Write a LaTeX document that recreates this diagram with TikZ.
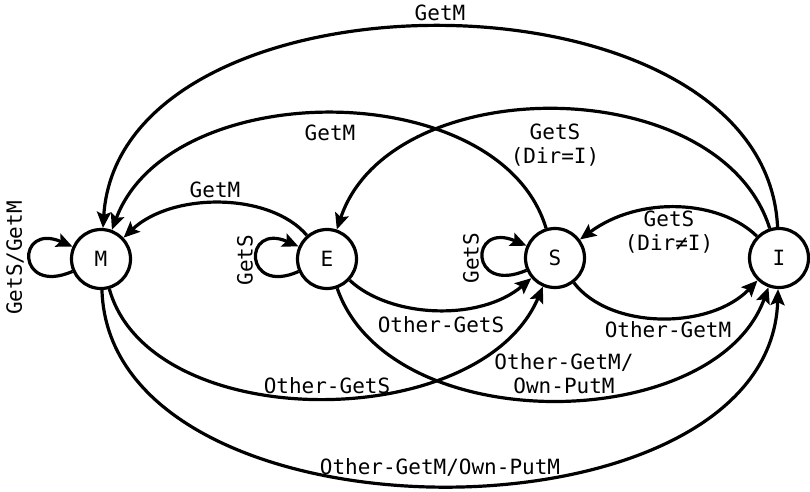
\documentclass[tikz,border=0pt]{standalone}
\usepackage{fontspec}
\setmainfont{DejaVu Sans Mono}
\usetikzlibrary{arrows.meta}
\begin{document}
\begin{tikzpicture}[x=1pt,y=-1pt,
  state/.style={circle,draw,line width=3.2pt,minimum size=59pt,inner sep=0pt,font=\fontsize{21}{24}\selectfont},
  edge/.style={line width=3.2pt,-{Stealth[length=16pt,width=14pt,inset=3pt]}},
  lbl/.style={font=\fontsize{21}{24}\selectfont,align=center,inner sep=0pt}]
\useasboundingbox (0,0) rectangle (810,491);
\node[state] (M) at (101,259) {M};
\node[state] (E) at (327,259) {E};
\node[state] (S) at (555,258) {S};
\node[state] (I) at (779,258) {I};
% edges
\draw[edge] (I) .. controls (765,-40) and (120,-40) .. (M);
\draw[edge] (S) .. controls (500,75) and (170,75) .. (M);
\draw[edge] (E) .. controls (270,192) and (172,192) .. (M);
\draw[edge] (I) .. controls (720,70) and (390,70) .. (E);
\draw[edge] (I) .. controls (720,200) and (640,195) .. (S);
\draw[edge] (S) .. controls (610,330) and (710,330) .. (I);
\draw[edge] (E) .. controls (390,318) and (480,322) .. (S);
\draw[edge] (M) .. controls (150,435) and (480,435) .. (S);
\draw[edge] (E) .. controls (390,440) and (715,435) .. (I);
\draw[edge] (M) .. controls (110,551) and (770,551) .. (I);
% self loops
\draw[edge] (M) .. controls (16,296) and (16,222) .. (M);
\draw[edge] (E) .. controls (243,296) and (243,222) .. (E);
\draw[edge] (S) .. controls (469,295) and (469,221) .. (S);
% labels
\node[lbl] (l1) at (440,13) {GetM};
\node[lbl] (l2) at (330,133) {GetM};
\node[lbl] (l3) at (215,190) {GetM};
\node[lbl] (l4) at (555,145) {GetS\\(Dir=I)};
\node[lbl] (l5) at (669,232) {GetS\\(Dir≠I)};
\node[lbl] (l6) at (668,330) {Other-GetM};
\node[lbl] (l7) at (441,325) {Other-GetS};
\node[lbl] (l8) at (327,386) {Other-GetS};
\node[lbl] (l9) at (564,374) {Other-GetM/\\Own-PutM};
\node[lbl] (l10) at (440,467) {Other-GetM/Own-PutM};
\node[lbl,rotate=90] (l11) at (15,258) {GetS/GetM};
\node[lbl,rotate=90] (l12) at (245,260) {GetS};
\node[lbl,rotate=90] (l13) at (471,258) {GetS};
\end{tikzpicture}
\end{document}
